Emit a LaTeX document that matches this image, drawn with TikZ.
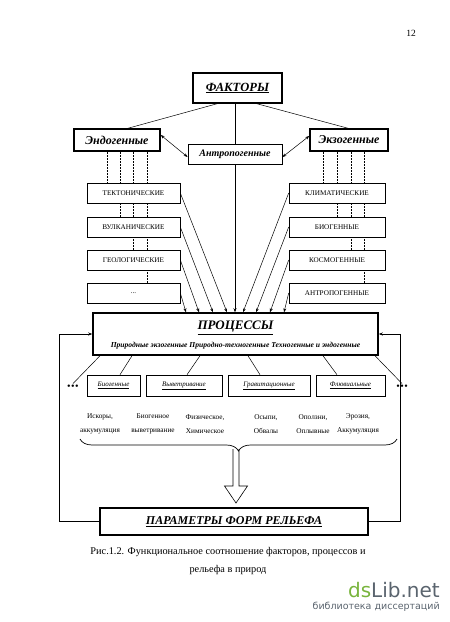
\documentclass[tikz,border=0pt]{standalone}
\usepackage{fontspec}
\setmainfont{Liberation Serif}
\newfontfamily\markfont{DejaVu Sans}
\usetikzlibrary{arrows.meta,calc,decorations.pathreplacing,backgrounds}
\definecolor{markgreen}{RGB}{120,180,60}
\definecolor{markgrey}{RGB}{90,100,110}
\begin{document}
\begin{tikzpicture}[x=1pt, y=-1pt,
    heavybox/.style={draw, line width=1.5pt, inner sep=0pt},
    kindbox/.style={draw, fill=white, line width=0.6pt, inner sep=0pt, minimum height=20pt, font=\fontsize{7.2}{8}\selectfont},
    typebox/.style={draw, line width=0.6pt, inner sep=0pt, minimum height=21pt, font=\fontsize{7}{8}\selectfont\itshape},
    link/.style={line width=0.5pt},
    tip/.style={-{Stealth[length=4pt,width=3pt]}},
    twotip/.style={{Stealth[length=4pt,width=3pt]}-{Stealth[length=4pt,width=3pt]}},
    cell/.style={align=center, inner sep=0pt, font=\fontsize{7.3}{14}\selectfont}]
    \useasboundingbox (0,0) rectangle (450,622);
    \node (page) at (411,33) {\fontsize{9.5}{10}\selectfont 12};
    \node[heavybox, minimum width=89pt, minimum height=30pt, font=\fontsize{12.5}{14}\selectfont\bfseries\itshape] (fakt) at (237.5,88) {\underline{ФАКТОРЫ}};
    \node[heavybox, minimum width=86pt, minimum height=22pt, font=\fontsize{12}{14}\selectfont\bfseries\itshape] (endo) at (117,140) {Эндогенные};
    \node[heavybox, line width=0.9pt, minimum width=94pt, minimum height=20pt, font=\fontsize{10}{12}\selectfont\bfseries\itshape] (antr) at (235,154) {Антропогенные};
    \node[heavybox, minimum width=78pt, minimum height=22pt, font=\fontsize{12}{14}\selectfont\bfseries\itshape] (exo) at (349,140) {Экзогенные};
    \draw[link] ([xshift=-20.5pt]fakt.south) -- ([xshift=11pt]endo.north);
    \draw[link] ([xshift=19.5pt]fakt.south) -- ([xshift=-1pt]exo.north);
    \draw[link] (fakt.south -| antr.north) -- (antr.north);
    \draw[link, twotip] ([yshift=5pt]endo.east) -- ([yshift=-3pt]antr.west);
    \draw[link, twotip] ([yshift=-3pt]antr.east) -- ([yshift=4pt]exo.west);
    \node[kindbox, minimum width=93pt] (tekt) at (133.5,193) {ТЕКТОНИЧЕСКИЕ};
    \node[kindbox, minimum width=93pt] (vulk) at (133.5,227) {ВУЛКАНИЧЕСКИЕ};
    \node[kindbox, minimum width=93pt] (geol) at (133.5,260) {ГЕОЛОГИЧЕСКИЕ};
    \node[kindbox, minimum width=93pt] (more) at (133.5,293) {...};
    \node[kindbox, minimum width=96pt] (klim) at (337,193) {КЛИМАТИЧЕСКИЕ};
    \node[kindbox, minimum width=96pt] (biog) at (337,227) {БИОГЕННЫЕ};
    \node[kindbox, minimum width=96pt] (kosm) at (337,260) {КОСМОГЕННЫЕ};
    \node[kindbox, minimum width=96pt] (antg) at (337,293) {АНТРОПОГЕННЫЕ};
    \begin{pgfonlayer}{background}
    \foreach \n/\x in {tekt/107, vulk/120, geol/133, more/147} {
        \coordinate (c) at (\x,0);
        \draw[link, densely dotted, line width=0.7pt] (endo.south -| c) -- (\n.north -| c);
    };
    \foreach \n/\x in {klim/323, biog/337, kosm/351, antg/364} {
        \coordinate (c) at (\x,0);
        \draw[link, densely dotted, line width=0.7pt] (exo.south -| c) -- (\n.north -| c);
    };
    \end{pgfonlayer}
    \node[heavybox, minimum width=285pt, minimum height=42pt] (proc) at (235.5,334) {};
    \node[font=\fontsize{13}{15}\selectfont\bfseries\itshape] (proctitle) at (235.5,328) {\underline{ПРОЦЕССЫ}};
    \node[font=\fontsize{7.6}{9}\selectfont\bfseries\itshape] (procsub) at (235.5,346) {Природные экзогенные Природно-техногенные Техногенные и эндогенные};
    \foreach \n/\x in {tekt/227, vulk/213, geol/199, more/186} {
        \coordinate (c) at (\x,0);
        \draw[link, tip] (\n.east) -- (proc.north -| c);
    };
    \foreach \n/\x in {klim/243, biog/256, kosm/270, antg/284} {
        \coordinate (c) at (\x,0);
        \draw[link, tip] (\n.west) -- (proc.north -| c);
    };
    \draw[link, tip] (antr.south) -- (proc.north -| antr.south);
    \node[typebox, minimum width=53pt] (bio) at (113.5,385.5) {\underline{Биогенные}};
    \node[typebox, minimum width=76pt] (vyv) at (184,385.5) {\underline{Выветривание}};
    \node[typebox, minimum width=82pt] (grav) at (269,385.5) {\underline{Гравитационные}};
    \node[typebox, minimum width=69pt] (fluv) at (350.5,385.5) {\underline{Флювиальные}};
    \node[inner sep=1pt, font=\fontsize{10}{10}\selectfont] (ldots) at (73,387) {\textbullet\hspace{0.5pt}\textbullet\hspace{0.5pt}\textbullet};
    \node[inner sep=1pt, font=\fontsize{10}{10}\selectfont] (rdots) at (402,387) {\textbullet\hspace{0.5pt}\textbullet\hspace{0.5pt}\textbullet};
    \draw[link] ([xshift=-135.5pt]proc.south) -- (ldots.north);
    \draw[link] ([xshift=-103.5pt]proc.south) -- ([xshift=6.5pt]bio.north);
    \draw[link] ([xshift=-35.5pt]proc.south) -- ([xshift=3pt]vyv.north);
    \draw[link] ([xshift=12.5pt]proc.south) -- ([xshift=-9pt]grav.north);
    \draw[link] ([xshift=87.5pt]proc.south) -- ([xshift=-13.5pt]fluv.north);
    \draw[link] ([xshift=139.5pt]proc.south) -- (rdots.north);
    \node[cell] (t1) at (100,424) {Искоры,\\аккумуляция};
    \node[cell] (t2) at (153,424) {Биогенное\\выветривание};
    \node[cell] (t3) at (205,424) {Физическое,\\Химическое};
    \node[cell] (t4) at (266,424) {Осыпи,\\Обвалы};
    \node[cell] (t5) at (313,424) {Оползни,\\Оплывные};
    \node[cell] (t6) at (358,424) {Эрозия,\\Аккумуляция};
    \draw[link, line width=0.7pt, decorate, decoration={brace, amplitude=12pt}] (397,439) -- (80,439);
    \node[heavybox, minimum width=268pt, minimum height=27pt, font=\fontsize{12}{14}\selectfont\bfseries\itshape] (param) at (234,521.5) {\underline{ПАРАМЕТРЫ ФОРМ РЕЛЬЕФА}};
    \draw[link, line width=0.6pt] (233,449) -- (233,486) -- (224.5,486) -- (236,503) -- (247.5,486) -- (239,486) -- (239,449);
    \draw[link, line width=0.6pt, tip] (param.west) -- ++(-40,0) |- (proc.west);
    \draw[link, line width=0.6pt, tip] (param.east) -- ++(32,0) |- (proc.east);
    \node[align=center, font=\fontsize{10.3}{18}\selectfont] (caption) at (228,561) {Рис.1.2. Функциональное соотношение факторов, процессов и\\рельефа в природ};
    \node[anchor=east, inner sep=0pt, font=\markfont\fontsize{20}{22}\selectfont] (markname) at (440,590) {\textcolor{markgreen}{ds}\textcolor{markgrey}{Lib.net}};
    \node[anchor=east, inner sep=0pt, font=\markfont\fontsize{9.5}{11}\selectfont, text=markgrey] (markline) at (440,607) {библиотека диссертаций};
\end{tikzpicture}
\end{document}
